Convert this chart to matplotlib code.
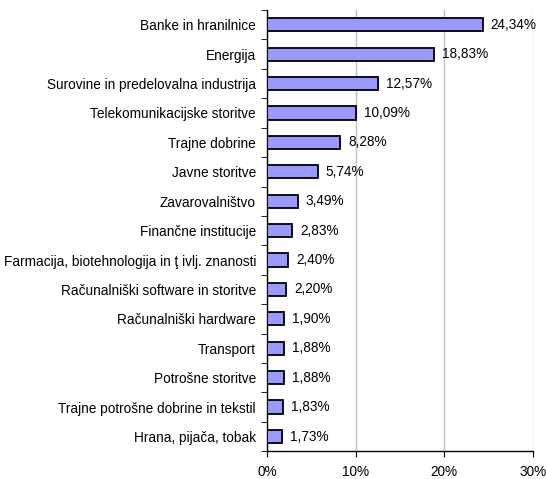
import numpy as np
import matplotlib
matplotlib.use('Agg')
import matplotlib.pyplot as plt

plt.rcParams['font.family'] = ['Liberation Sans', 'DejaVu Sans']

categories = ['Banke in hranilnice', 'Energija', 'Surovine in predelovalna industrija',
              'Telekomunikacijske storitve', 'Trajne dobrine', 'Javne storitve',
              'Zavarovalništvo', 'Finančne institucije',
              'Farmacija, biotehnologija in ţ ivlj. znanosti',
              'Računalniški software in storitve', 'Računalniški hardware',
              'Transport', 'Potrošne storitve', 'Trajne potrošne dobrine in tekstil',
              'Hrana, pijača, tobak']
values = [24.34, 18.83, 12.57, 10.09, 8.28, 5.74, 3.49, 2.83, 2.40, 2.20, 1.90,
          1.88, 1.88, 1.83, 1.73]
xticks = [0, 10, 20, 30]

fs = 9.8
fig = plt.figure(figsize=(5.46, 4.79), dpi=100)
ax = fig.add_axes([0.489, 0.058, 0.487, 0.921])

y = np.arange(len(categories))
ax.barh(y, values, height=0.45, color='#9999FF', edgecolor='black', linewidth=1.3, zorder=3)
for yi, v in zip(y, values):
    ax.text(v + 0.9, yi, ('%.2f' % v).replace('.', ',') + '%', va='center', ha='left', fontsize=fs)

ax.set_ylim(len(categories) - 0.5, -0.5)
ax.set_xlim(0, 30)
ax.set_xticks(xticks)
ax.set_xticklabels(['%d%%' % t for t in xticks], fontsize=fs)
ax.set_yticks(y)
ax.set_yticklabels(categories, fontsize=fs)
ax.tick_params(axis='y', which='major', length=0, pad=8)
ax.set_yticks(np.arange(-0.5, len(categories)), minor=True)
ax.tick_params(axis='y', which='minor', length=4, direction='out')
ax.tick_params(axis='x', length=4, direction='out', pad=6)
ax.grid(axis='x', color='#c0c0c0', linewidth=1, zorder=0)

for s in ['top', 'right']:
    ax.spines[s].set_visible(False)
ax.spines['left'].set_linewidth(1)
ax.spines['bottom'].set_linewidth(1)

plt.savefig('out.png', dpi=100)
